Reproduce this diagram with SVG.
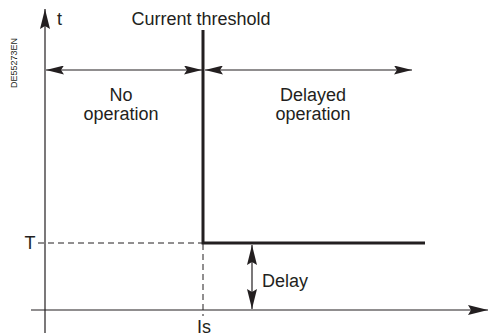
<svg xmlns="http://www.w3.org/2000/svg" width="488" height="336" viewBox="0 0 488 336">
<style>
text{font-family:"Liberation Sans",Arial,sans-serif;fill:#231f20}
.lbl{font-size:18px}
.thin{stroke:#231f20;stroke-width:1.2;fill:none}
.thick{stroke:#231f20;stroke-width:3;fill:none}
.dash{stroke:#231f20;stroke-width:1;fill:none;stroke-dasharray:6,4}
</style>
<defs>
<marker id="ah" viewBox="0 0 18 9" refX="18" refY="4.5" markerWidth="18" markerHeight="9" markerUnits="userSpaceOnUse" orient="auto-start-reverse">
<path d="M0,0 L18,4.5 L0,9 L3,4.5 Z" fill="#231f20"/>
</marker>
<marker id="ahb" viewBox="0 0 20 10" refX="20" refY="5" markerWidth="20" markerHeight="10" markerUnits="userSpaceOnUse" orient="auto-start-reverse">
<path d="M0,0 L20,5 L0,10 L3,5 Z" fill="#231f20"/>
</marker>
</defs>
<g id="connectors">
<line class="thin" x1="45" y1="333" x2="45" y2="9" marker-end="url(#ahb)"/>
<line class="thin" x1="31" y1="310" x2="488" y2="310" marker-end="url(#ahb)"/>
<line class="thin" x1="46" y1="70" x2="202" y2="70" marker-start="url(#ah)" marker-end="url(#ah)"/>
<line class="thin" x1="205" y1="70" x2="412" y2="70" marker-start="url(#ah)" marker-end="url(#ah)"/>
<line class="thin" x1="252" y1="245" x2="252" y2="309" marker-start="url(#ahb)" marker-end="url(#ahb)"/>
<line class="dash" x1="38" y1="243" x2="203" y2="243"/>
<line class="dash" x1="203" y1="244" x2="203" y2="316"/>
<polyline class="thick" points="203,30 203,243 425,243"/>
</g>
<g id="labels">
<text class="lbl" x="57" y="25">t</text>
<text class="lbl" x="131.5" y="25">Current threshold</text>
<text class="lbl" x="121" y="101" text-anchor="middle">No</text>
<text class="lbl" x="121" y="120" text-anchor="middle">operation</text>
<text class="lbl" x="313" y="101" text-anchor="middle">Delayed</text>
<text class="lbl" x="313" y="120" text-anchor="middle">operation</text>
<text class="lbl" x="24.5" y="249">T</text>
<text class="lbl" x="197" y="333">Is</text>
<text class="lbl" x="262" y="287">Delay</text>
<text font-size="9" text-anchor="middle" transform="translate(16.5 63) rotate(-90)">DE55273EN</text>
</g>
</svg>
